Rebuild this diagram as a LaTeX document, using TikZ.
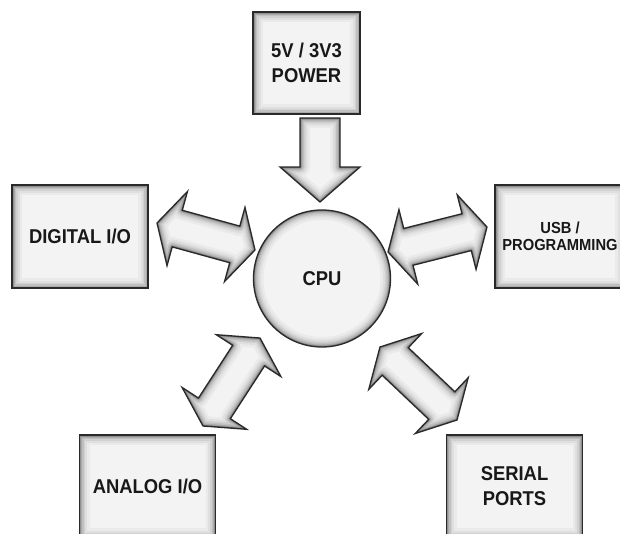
\documentclass[tikz,border=0pt]{standalone}
\usepackage{fontspec}
\setmainfont{Liberation Sans}[FakeStretch=0.92]
\usetikzlibrary{calc}

\definecolor{panel}{HTML}{F3F3F3}
\definecolor{edge}{HTML}{2A2A2A}
\definecolor{ink}{HTML}{181818}

% inner shading bands along the outline of a shape
\newcommand\glowbands[1]{%
  \foreach \gw/\go in {20/0.035,15/0.045,11/0.06,8/0.08,5/0.11,3/0.15,1.5/0.22}
    \draw[line width=\gw pt, black, opacity=\go, line join=round] #1;}

% filled, inner-shaded shape with dark outline
\newcommand\shadedshape[1]{%
  \fill[panel] #1;
  \begin{scope}
    \clip #1;
    \glowbands{#1}
  \end{scope}
  \draw[edge, line width=1.3pt, line join=miter] #1;}

% two-headed block arrow between tips #1 and #2
\newcommand\twoheadpath[2]{let \p1=(#1), \p2=(#2), \n1={atan2(\y2-\y1,\x2-\x1)} in
  (\p1)
  -- ($(\p1)+(\n1:21pt)+({\n1+90}:38.5pt)$)
  -- ($(\p1)+(\n1:21pt)+({\n1+90}:19pt)$)
  -- ($(\p2)+(\n1:-21pt)+({\n1+90}:19pt)$)
  -- ($(\p2)+(\n1:-21pt)+({\n1+90}:38.5pt)$)
  -- (\p2)
  -- ($(\p2)+(\n1:-21pt)+({\n1-90}:38.5pt)$)
  -- ($(\p2)+(\n1:-21pt)+({\n1-90}:19pt)$)
  -- ($(\p1)+(\n1:21pt)+({\n1-90}:19pt)$)
  -- ($(\p1)+(\n1:21pt)+({\n1-90}:38.5pt)$)
  -- cycle}

% one-headed block arrow from tail #1 to tip #2
\newcommand\oneheadpath[2]{let \p1=(#1), \p2=(#2), \n1={atan2(\y2-\y1,\x2-\x1)} in
  ($(\p1)+({\n1+90}:20pt)$)
  -- ($(\p2)+(\n1:-35pt)+({\n1+90}:20pt)$)
  -- ($(\p2)+(\n1:-35pt)+({\n1+90}:40pt)$)
  -- (\p2)
  -- ($(\p2)+(\n1:-35pt)+({\n1-90}:40pt)$)
  -- ($(\p2)+(\n1:-35pt)+({\n1-90}:20pt)$)
  -- ($(\p1)+({\n1-90}:20pt)$)
  -- cycle}

\tikzset{
  rectglow/.style={path picture={
      \glowbands{(path picture bounding box.south west) rectangle (path picture bounding box.north east)}}},
  roundglow/.style={path picture={
      \glowbands{(path picture bounding box.center) circle (68.5pt)}}},
  block/.style={draw=edge, line width=1.3pt, fill=panel, rectglow,
      minimum width=136pt, minimum height=103pt, inner sep=0pt,
      align=center, text=ink, font=\bfseries\fontsize{20}{25}\selectfont},
  smalltext/.style={font=\bfseries\fontsize{16}{17}\selectfont},
  core/.style={circle, draw=edge, line width=1.3pt, fill=panel, roundglow,
      minimum size=137pt, inner sep=0pt, text=ink,
      font=\bfseries\fontsize{20}{22}\selectfont}
}

\begin{document}
\begin{tikzpicture}[x=1pt, y=-1pt]
  \useasboundingbox (0,0) rectangle (620,533);
  \fill[white] (0,0) rectangle (620,533);
  \clip (0,0) rectangle (620,533);

  % blocks
  \node[block, minimum width=107pt, minimum height=102pt] (pwr) at (306.5,63) {5V / 3V3\\POWER};
  \node[block] (dig) at (80,236.5) {DIGITAL I/O};
  \node[block, smalltext, minimum width=130pt] (usb) at (560,236.5) {USB /\\PROGRAMMING};
  \node[block] (ana) at (147.5,486.5) {ANALOG I/O};
  \node[block] (ser) at (514.5,486.5) {SERIAL\\PORTS};
  \node[core] (cpu) at (322,278.5) {CPU};

  % arrow tips
  \coordinate (pwrA) at (320,118);
  \coordinate (pwrB) at (320,202);
  \coordinate (digA) at (157,223);
  \coordinate (digB) at (255,250);
  \coordinate (usbA) at (388,252);
  \coordinate (usbB) at (487,227);
  \coordinate (anaA) at (203,426);
  \coordinate (anaB) at (260,338);
  \coordinate (serA) at (380,347);
  \coordinate (serB) at (457,420);

  % block arrows
  \shadedshape{\oneheadpath{pwrA}{pwrB}}
  \shadedshape{\twoheadpath{digA}{digB}}
  \shadedshape{\twoheadpath{usbA}{usbB}}
  \shadedshape{\twoheadpath{anaA}{anaB}}
  \shadedshape{\twoheadpath{serA}{serB}}
\end{tikzpicture}
\end{document}
